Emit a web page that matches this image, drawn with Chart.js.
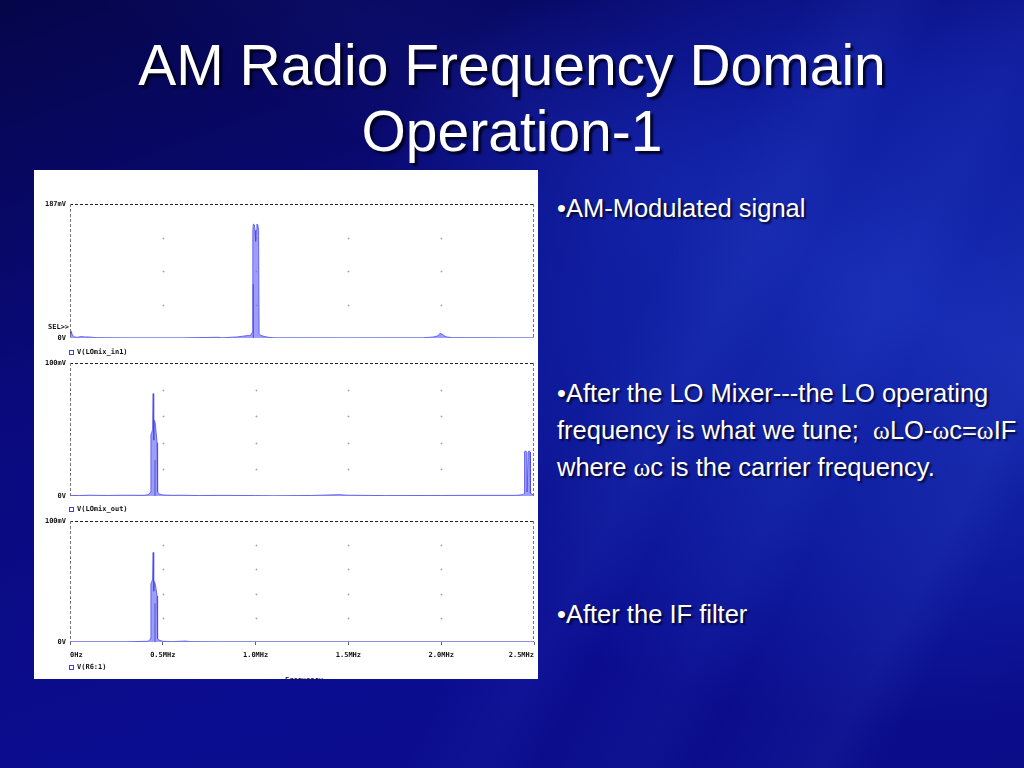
<!DOCTYPE html>
<html lang="en">
<head>
<meta charset="utf-8">
<title>AM Radio Frequency Domain Operation-1</title>
<script src="https://cdn.jsdelivr.net/npm/chart.js@4.4.1/dist/chart.umd.min.js"></script>
<style>
    html, body { margin: 0; padding: 0; }
    body {
        width: 1024px; height: 768px; overflow: hidden; position: relative;
        font-family: 'Liberation Sans', Arial, sans-serif;
        background:
            linear-gradient(118deg, transparent 56%, rgba(90,130,255,0.06) 62%, transparent 66%, rgba(90,130,255,0.05) 73%, transparent 77%, rgba(100,140,255,0.07) 86%, transparent 90%),
            linear-gradient(28deg, transparent 62%, rgba(70,100,255,0.06) 72%, transparent 82%),
            radial-gradient(ellipse 75% 70% at 90% 40%, #1429b0 0%, #101fa2 40%, rgba(12,16,140,0) 78%),
            linear-gradient(160deg, #05054a 0%, #0a0a7c 35%, #0b0d90 70%, #0a0c88 100%);
    }
    .titulo {
        position: absolute; left: 0; top: 32px; width: 1024px; text-align: center;
        color: #fff; font-size: 57px; line-height: 66px;
        text-shadow: 3px 3px 2px rgba(0,0,25,0.85);
    }
    .panel {
        position: absolute; left: 34px; top: 170px; width: 504px; height: 509px;
        background: #fff; overflow: hidden;
    }
    .grafica { position: absolute; left: 0; width: 504px; }
    .etiqueta {
        position: absolute; font-family: 'DejaVu Sans Mono', monospace; font-weight: bold;
        font-size: 7px; line-height: 8px; color: #111; white-space: pre;
    }
    .marca {
        display: inline-block; width: 3px; height: 3px; border: 1px solid #4040d8;
        margin-right: 3px; vertical-align: middle;
    }
    .texto {
        position: absolute; left: 557px; color: #fff; font-size: 25.5px; line-height: 36.7px;
        text-shadow: 2px 2px 2px rgba(0,0,20,0.8); white-space: nowrap;
    }
    .omega { font-family: 'Liberation Serif', 'Times New Roman', serif; }
</style>
</head>
<body>
<div class="titulo">AM Radio Frequency Domain<br>Operation-1</div>

<div class="panel" id="panel">
    <div class="grafica" style="top:28px;height:144px"><canvas id="graficaEntrada"></canvas></div>
    <div class="grafica" style="top:187px;height:143px"><canvas id="graficaMezclador"></canvas></div>
    <div class="grafica" style="top:345px;height:150px"><canvas id="graficaFiltro"></canvas></div>
    <div class="etiqueta" style="left:14px;top:153px">SEL&gt;&gt;</div>
    <div class="etiqueta" style="left:251px;top:506px">Frequency</div>
</div>

<div class="texto" style="top:190px">•AM-Modulated signal</div>
<div class="texto" style="top:375px">•After the LO Mixer---the LO operating<br>frequency is what we tune;&nbsp; <span class="omega">ω</span>LO-<span class="omega">ω</span>c=<span class="omega">ω</span>IF<br>where <span class="omega">ω</span>c is the carrier frequency.</div>
<div class="texto" style="top:596px">•After the IF filter</div>

<script>
// Datos (frecuencia en MHz, amplitud en mV)
const frecuenciasEntrada = [0, 0.004, 0.008, 0.012, 0.018, 0.025, 0.04, 0.06, 0.08, 0.1, 0.14, 0.3, 0.6, 0.8, 0.82, 0.9, 0.93, 0.96, 0.975, 0.982, 0.985, 0.988, 0.993, 0.997, 1.0, 1.003, 1.007, 1.012, 1.016, 1.019, 1.025, 1.035, 1.05, 1.07, 1.1, 1.5, 1.9, 1.96, 1.98, 1.99, 1.995, 2.0, 2.005, 2.015, 2.03, 2.06, 2.5];
const amplitudesEntrada = [10, 6, 9, 4, 3, 1.5, 1, 2, 1.5, 1.5, 0.5, 0.2, 0.2, 1, 0.3, 1.5, 2.5, 3.5, 4, 8, 150, 159, 158, 150, 135, 150, 159, 158, 150, 6, 4, 3, 2, 1, 0.3, 0.2, 0.3, 1.5, 3, 5, 7, 5, 6, 3, 1.5, 0.5, 0.2];

const frecuenciasMezclador = [0, 0.05, 0.1, 0.2, 0.3, 0.4, 0.42, 0.43, 0.434, 0.436, 0.441, 0.445, 0.448, 0.45, 0.452, 0.454, 0.459, 0.464, 0.469, 0.472, 0.48, 0.5, 0.55, 0.6, 0.7, 0.8, 0.9, 1.0, 1.1, 1.3, 1.45, 1.5, 1.7, 2.0, 2.2, 2.4, 2.44, 2.447, 2.449, 2.455, 2.461, 2.463, 2.467, 2.469, 2.474, 2.479, 2.481, 2.5];
const amplitudesMezclador = [0.5, 0.3, 0.6, 0.4, 0.6, 0.5, 1, 2, 3, 46, 48, 50, 77, 62, 42, 57, 55, 48, 40, 3, 1.5, 0.8, 0.5, 0.6, 0.3, 0.5, 0.4, 0.3, 0.2, 0.4, 1, 0.6, 0.3, 0.4, 0.5, 0.5, 1, 2, 33, 34, 33, 3, 3, 33, 34, 33, 2, 0.5];

const frecuenciasFiltro = [0, 0.3, 0.42, 0.43, 0.434, 0.436, 0.441, 0.445, 0.448, 0.45, 0.452, 0.454, 0.459, 0.464, 0.469, 0.472, 0.48, 0.5, 0.55, 0.62, 0.65, 0.8, 2.5];
const amplitudesFiltro = [0.2, 0.2, 0.6, 1.5, 3, 48, 50, 52, 74, 60, 42, 50, 48, 44, 38, 3, 1.5, 0.6, 0.3, 0.8, 0.3, 0.2, 0.2];

// Línea oscura dentro de cada pico (frecuencia y nivel)
const frecuenciasLineaOscura = [0.988, 0.458, 0.458];
const nivelesLineaOscura = [75, 27, 32];

const maximosEjeY = [187, 100, 100];
const divisionesEjeY = [4, 5, 5];
const etiquetasEjeY = [['0V', '187mV'], ['0V', '100mV'], ['0V', '100mV']];
const ticksFrecuencia = [0, 0.5, 1.0, 1.5, 2.0, 2.5];
const etiquetasFrecuencia = ['0Hz', '0.5MHz', '1.0MHz', '1.5MHz', '2.0MHz', '2.5MHz'];
const frecuenciasRejilla = [0.5, 1.0, 1.5, 2.0];
const nombresTrazas = ['V(LOmix_in1)', 'V(LOmix_out)', 'V(R6:1)'];
const posicionLeyendas = [178, 335, 493];

const fuenteEtiquetas = { family: 'DejaVu Sans Mono', size: 7, weight: 'bold' };

// Puntos de rejilla y marco punteado al estilo PSpice
const pluginRejilla = {
    id: 'rejillaPSpice',
    beforeDatasetsDraw(chart, args, opciones) {
        const { ctx, scales: { x, y } } = chart;
        const maximo = opciones.maximo;
        const divisiones = opciones.divisiones;
        ctx.save();
        frecuenciasRejilla.forEach(f => {
            for (let k = 1; k < divisiones; k++) {
                const px = Math.round(x.getPixelForValue(f));
                const py = Math.round(y.getPixelForValue(maximo * k / divisiones));
                ctx.fillStyle = '#dadada';
                ctx.fillRect(px - 1, py, 3, 1);
                ctx.fillRect(px, py - 1, 1, 3);
                ctx.fillStyle = '#a8a8a8';
                ctx.fillRect(px, py, 1, 1);
            }
        });
        ctx.restore();
    },
    afterDraw(chart) {
        const { ctx, chartArea: a } = chart;
        ctx.save();
        ctx.lineWidth = 1;
        ctx.setLineDash([3, 2]);
        ctx.strokeStyle = '#222';
        ctx.beginPath();
        ctx.moveTo(a.left, a.top + 0.5);
        ctx.lineTo(a.right, a.top + 0.5);
        ctx.stroke();
        ctx.strokeStyle = '#777';
        ctx.beginPath();
        ctx.moveTo(a.left + 0.5, a.top);
        ctx.lineTo(a.left + 0.5, a.bottom);
        ctx.moveTo(a.right - 0.5, a.top);
        ctx.lineTo(a.right - 0.5, a.bottom);
        ctx.stroke();
        ctx.restore();
    }
};

function crearGrafica(idCanvas, indice, frecuencias, amplitudes, mostrarEjeX) {
    const ctx = document.getElementById(idCanvas).getContext('2d');
    const maximo = maximosEjeY[indice];
    const puntos = frecuencias.map((f, i) => ({ x: f, y: amplitudes[i] }));
    const lineaOscura = [
        { x: frecuenciasLineaOscura[indice], y: 0 },
        { x: frecuenciasLineaOscura[indice], y: nivelesLineaOscura[indice] }
    ];

    return new Chart(ctx, {
        type: 'line',
        data: {
            datasets: [
                {
                    label: nombresTrazas[indice],
                    data: puntos,
                    borderColor: 'rgba(70, 70, 235, 0.75)',
                    backgroundColor: 'rgba(120, 120, 248, 0.72)',
                    borderWidth: 1,
                    fill: 'origin',
                    pointRadius: 0,
                    tension: 0
                },
                {
                    data: lineaOscura,
                    borderColor: '#1414b4',
                    borderWidth: 1.2,
                    fill: false,
                    pointRadius: 0
                }
            ]
        },
        options: {
            animation: false,
            responsive: true,
            maintainAspectRatio: false,
            layout: { padding: { top: 6, bottom: mostrarEjeX ? 0 : 4, left: 0, right: 4 } },
            plugins: {
                legend: { display: false },
                tooltip: { enabled: false },
                rejillaPSpice: { maximo: maximo, divisiones: divisionesEjeY[indice] }
            },
            scales: {
                x: {
                    type: 'linear',
                    min: 0,
                    max: 2.5,
                    display: mostrarEjeX,
                    afterBuildTicks: escala => { escala.ticks = ticksFrecuencia.map(v => ({ value: v })); },
                    afterFit: escala => {
                        if (!mostrarEjeX) return;
                        escala.height = 23;
                        escala.paddingLeft = 0;
                        escala.paddingRight = 0;
                    },
                    ticks: {
                        align: 'inner', padding: 6, color: '#111', font: fuenteEtiquetas,
                        maxRotation: 0, autoSkip: false,
                        callback: (v, i) => etiquetasFrecuencia[i]
                    },
                    grid: { display: true, drawOnChartArea: false, tickLength: 3, color: '#666' },
                    border: { display: false }
                },
                y: {
                    min: 0,
                    max: maximo,
                    afterBuildTicks: escala => { escala.ticks = [{ value: 0 }, { value: maximo }]; },
                    afterFit: escala => { escala.width = 36; escala.paddingTop = 0; escala.paddingBottom = 0; },
                    ticks: {
                        padding: 4, color: '#111', font: fuenteEtiquetas,
                        callback: (v, i) => etiquetasEjeY[indice][i]
                    },
                    grid: { display: false, drawTicks: false, tickLength: 0 },
                    border: { display: false }
                }
            }
        },
        plugins: [pluginRejilla]
    });
}

// Leyendas de cada traza debajo de su gráfica
const panel = document.getElementById('panel');
nombresTrazas.forEach((nombre, i) => {
    const div = document.createElement('div');
    div.className = 'etiqueta';
    div.style.left = '35px';
    div.style.top = posicionLeyendas[i] + 'px';
    div.innerHTML = '<span class="marca"></span>';
    div.appendChild(document.createTextNode(nombre));
    panel.appendChild(div);
});

crearGrafica('graficaEntrada', 0, frecuenciasEntrada, amplitudesEntrada, false);
crearGrafica('graficaMezclador', 1, frecuenciasMezclador, amplitudesMezclador, false);
crearGrafica('graficaFiltro', 2, frecuenciasFiltro, amplitudesFiltro, true);
</script>
</body>
</html>
